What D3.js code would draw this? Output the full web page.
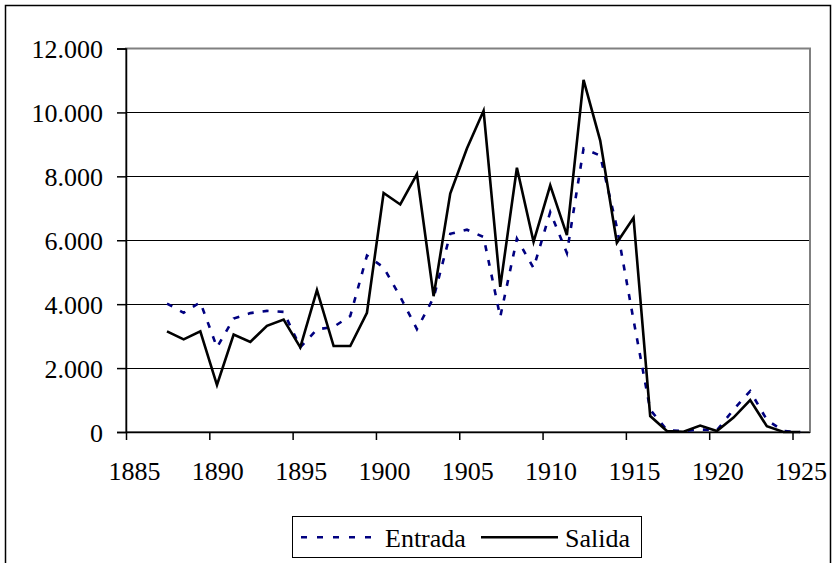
<!DOCTYPE html>
<html>
<head>
<meta charset="utf-8">
<script src="https://cdn.jsdelivr.net/npm/d3@7/dist/d3.min.js"></script>
<style>
  html, body { margin: 0; padding: 0; background: #fff; }
  svg { display: block; }
  svg text { font-family: 'Liberation Serif', 'DejaVu Serif', serif !important; fill: #000; }
</style>
</head>
<body>
<script>
// ---- data ----
const years = [1887,1888,1889,1890,1891,1892,1893,1894,1895,1896,1897,1898,1899,1900,
  1901,1902,1903,1904,1905,1906,1907,1908,1909,1910,1911,1912,1913,1914,1915,1916,
  1917,1918,1919,1920,1921,1922,1923,1924,1925];
const entrada = [4020,3730,4060,2650,3550,3720,3790,3760,2650,3210,3290,3630,5520,5150,
  4230,3220,4200,6200,6330,6100,3600,6050,5130,6880,5600,8870,8650,6400,3500,700,
  60,30,80,50,700,1280,380,30,0];
const salida = [3150,2900,3150,1470,3050,2820,3320,3520,2650,4440,2690,2690,3730,7480,
  7120,8070,4250,7460,8870,10050,4540,8270,5950,7720,6160,11020,9120,5920,6700,500,
  30,10,200,30,450,1000,180,0,0];
const xTicks = [1885,1890,1895,1900,1905,1910,1915,1920,1925];
const yTicks = [0,2000,4000,6000,8000,10000,12000];
const yTickLabels = ["0","2.000","4.000","6.000","8.000","10.000","12.000"];
const seriesNames = ["Entrada","Salida"];

(function () {
const W = 832, H = 563;
const FONT = "font-family: 'Liberation Serif', 'DejaVu Serif', serif; font-size: 26px;";
const svg = d3.select("body").append("svg").attr("width", W).attr("height", H);

// outer frame
svg.append("rect").attr("x", 5.5).attr("y", 5.5).attr("width", 825).attr("height", 580)
  .attr("fill", "#fff").attr("stroke", "#000").attr("stroke-width", 1.5);

const pL = 126, pR = 810, pT = 48.5, pB = 432;
const x = d3.scaleLinear().domain([1885, 1926.05]).range([pL, pR]);
const y = d3.scaleLinear().domain([0, 12000]).range([pB, pT]);
const within = 0.46; // point placed inside its year slot

// gridlines
svg.append("g").selectAll("line").data(yTicks.filter(t => t > 0 && t < 12000)).join("line")
  .attr("x1", pL).attr("x2", pR)
  .attr("y1", d => Math.round(y(d)) + 0.5).attr("y2", d => Math.round(y(d)) + 0.5)
  .attr("stroke", "#000").attr("stroke-width", 1);

// plot border (top/right grey)
svg.append("rect").attr("x", pL).attr("y", pT).attr("width", pR - pL).attr("height", pB - pT)
  .attr("fill", "none").attr("stroke", "#808080").attr("stroke-width", 2);

// y axis
const yAxis = svg.append("g").attr("transform", `translate(${pL},0)`)
  .call(d3.axisLeft(y).tickValues(yTicks).tickSize(9).tickPadding(14)
    .tickFormat((d, i) => yTickLabels[i]));
yAxis.attr("font-family", null).attr("font-size", null);
yAxis.selectAll("path,line").attr("stroke", "#000").attr("stroke-width", 1.5);
yAxis.selectAll("text").attr("style", FONT).attr("dy", 9);

// x axis
const xAxis = svg.append("g").attr("transform", `translate(0,${pB})`)
  .call(d3.axisBottom(x).tickValues(xTicks).tickSize(8).tickFormat(d3.format("d")));
xAxis.attr("font-family", null).attr("font-size", null);
xAxis.select("path").attr("d", `M${pL},0.5H${pR}`);
xAxis.selectAll("path,line").attr("stroke", "#000").attr("stroke-width", 1.5);
xAxis.selectAll("text").attr("style", FONT).attr("dy", null).attr("y", 48).attr("dx", 8);

// lines
const line = arr => d3.line().x((d, i) => x(years[i] + within)).y(d => y(d))(arr);
svg.append("path").attr("d", line(entrada)).attr("fill", "none")
  .attr("stroke", "#000080").attr("stroke-width", 2.6).attr("stroke-dasharray", "6,9");
svg.append("path").attr("d", line(salida)).attr("fill", "none")
  .attr("stroke", "#000").attr("stroke-width", 2.6).attr("stroke-linejoin", "miter");

// legend
const lg = svg.append("g");
lg.append("rect").attr("x", 292.5).attr("y", 516.5).attr("width", 349).attr("height", 41)
  .attr("fill", "#fff").attr("stroke", "#000").attr("stroke-width", 1);
lg.append("line").attr("x1", 301).attr("x2", 379).attr("y1", 537.3).attr("y2", 537.3)
  .attr("stroke", "#000080").attr("stroke-width", 2.6).attr("stroke-dasharray", "6,10");
lg.append("text").attr("x", 385).attr("y", 546.7).attr("style", FONT).text(seriesNames[0]);
lg.append("line").attr("x1", 481).attr("x2", 558).attr("y1", 537.3).attr("y2", 537.3)
  .attr("stroke", "#000").attr("stroke-width", 2.6);
lg.append("text").attr("x", 565).attr("y", 546.7).attr("style", FONT).text(seriesNames[1]);
})();
</script>
</body>
</html>
